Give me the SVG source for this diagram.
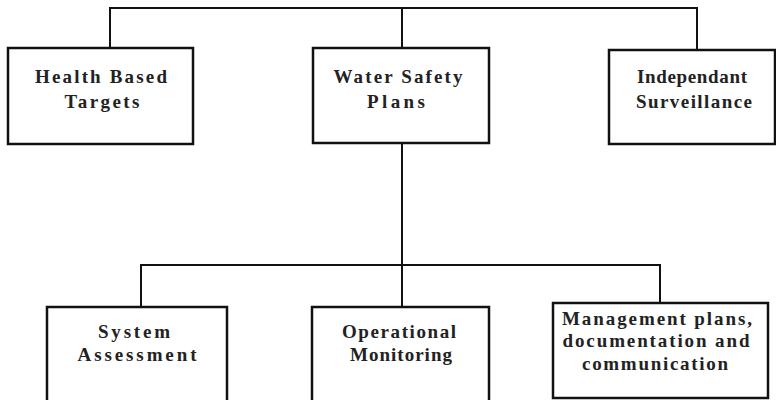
<svg xmlns="http://www.w3.org/2000/svg" width="776" height="400" viewBox="0 0 776 400">
<style>
.box{fill:#fff;stroke:#111;stroke-width:2.5}
.conn{fill:none;stroke:#111;stroke-width:2}
.t{font-family:"Liberation Serif","Times New Roman",serif;font-size:19px;font-weight:bold;fill:#222;text-anchor:middle}
</style>
<rect width="776" height="400" fill="#fff"/>
<g id="connectors">
<path class="conn" d="M110,48 V8 H697 V50"/>
<path class="conn" d="M402,8 V48"/>
<path class="conn" d="M402,144 V265"/>
<path class="conn" d="M141,307 V265 H660 V303"/>
<path class="conn" d="M402,265 V307"/>
</g>
<g id="health">
<rect class="box" x="8" y="48" width="185" height="96"/>
<text class="t" x="101" y="83" textLength="132" lengthAdjust="spacing">Health Based</text>
<text class="t" x="102" y="108" textLength="75" lengthAdjust="spacing">Targets</text>
</g>
<g id="wsp">
<rect class="box" x="313" y="48" width="176" height="95"/>
<text class="t" x="398" y="83" textLength="129" lengthAdjust="spacing">Water Safety</text>
<text class="t" x="396" y="108" textLength="58" lengthAdjust="spacing">Plans</text>
</g>
<g id="surv">
<rect class="box" x="609" y="50" width="166" height="94"/>
<text class="t" x="692" y="83" textLength="110" lengthAdjust="spacing">Independant</text>
<text class="t" x="694" y="108" textLength="116" lengthAdjust="spacing">Surveillance</text>
</g>
<g id="sysassess">
<rect class="box" x="47" y="307" width="180" height="96"/>
<text class="t" x="134" y="338" textLength="72" lengthAdjust="spacing">System</text>
<text class="t" x="137" y="361" textLength="119" lengthAdjust="spacing">Assessment</text>
</g>
<g id="opmon">
<rect class="box" x="312" y="307" width="177" height="96"/>
<text class="t" x="399" y="338" textLength="114" lengthAdjust="spacing">Operational</text>
<text class="t" x="401" y="361" textLength="102" lengthAdjust="spacing">Monitoring</text>
</g>
<g id="mgmt">
<rect class="box" x="553" y="303" width="215" height="95"/>
<text class="t" x="657" y="325" textLength="190" lengthAdjust="spacing">Management plans,</text>
<text class="t" x="656" y="347" textLength="187" lengthAdjust="spacing">documentation and</text>
<text class="t" x="655" y="370" textLength="146" lengthAdjust="spacing">communication</text>
</g>
</svg>
